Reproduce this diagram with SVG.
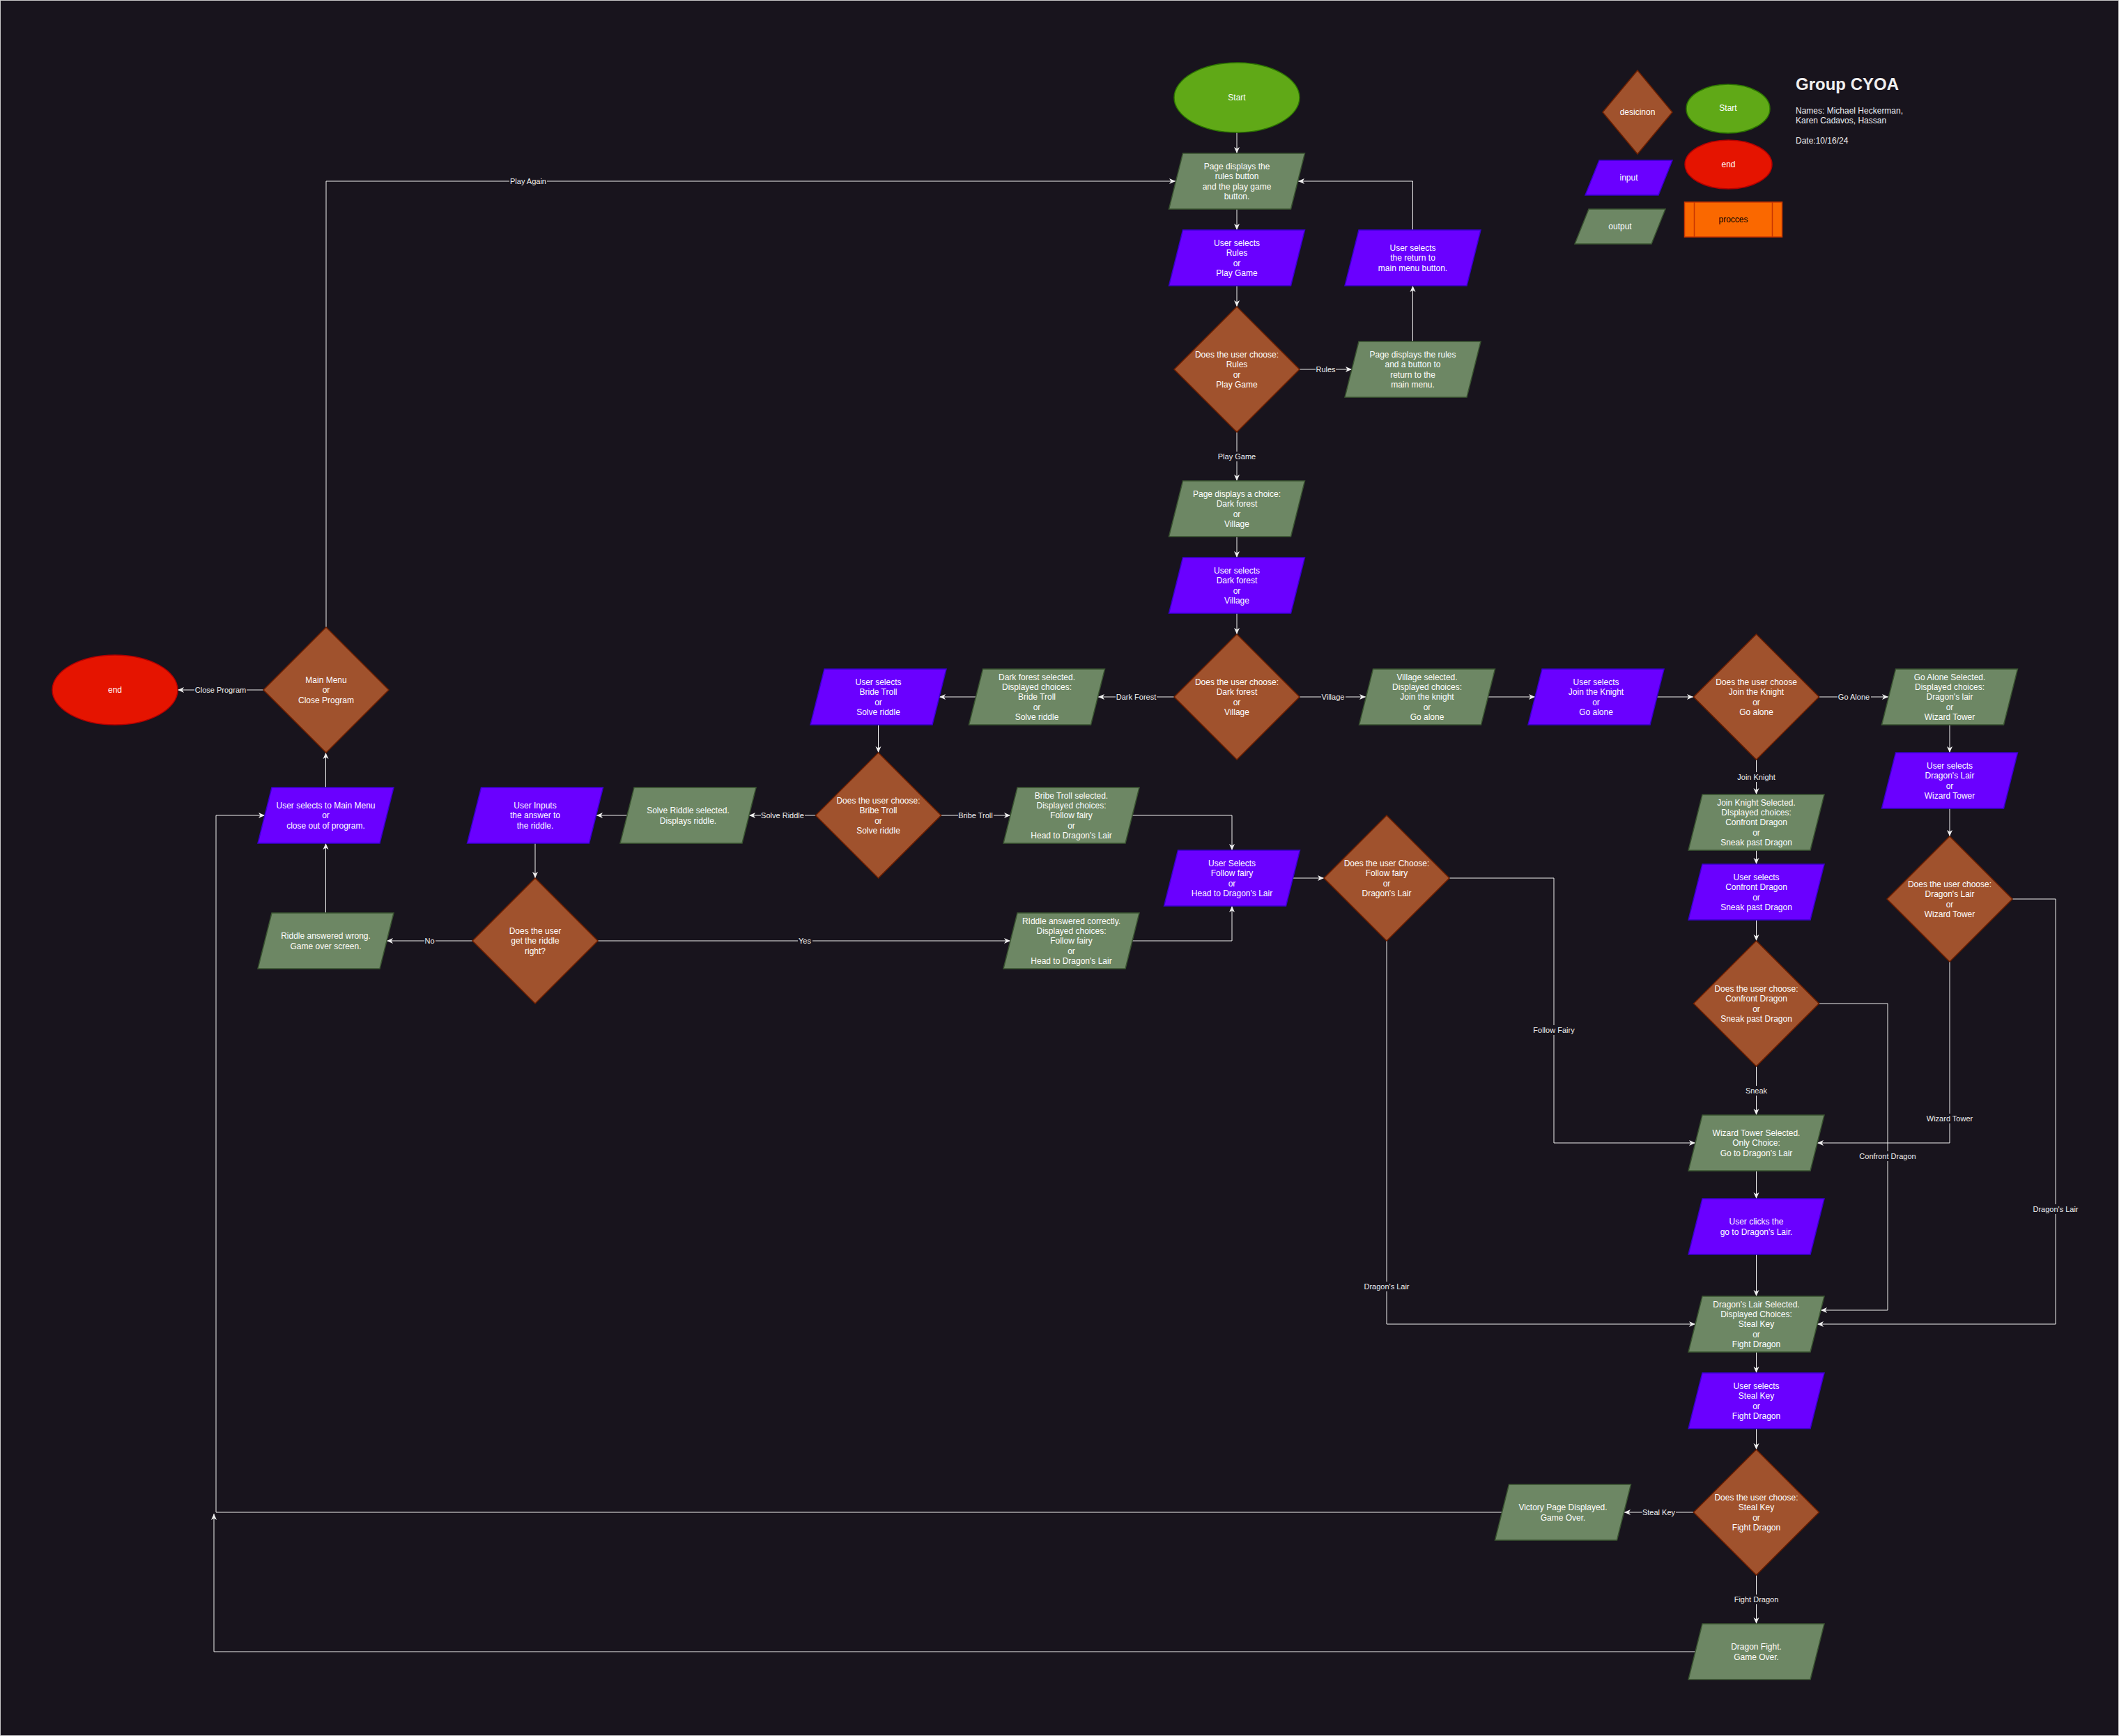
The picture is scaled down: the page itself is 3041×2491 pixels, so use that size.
<svg xmlns="http://www.w3.org/2000/svg" width="3041" height="2491" viewBox="0 0 3041 2491">
<style>
.out{fill:#6d8764;stroke:#3a5431;stroke-width:1.5}
.inp{fill:#6a00ff;stroke:#3700cc;stroke-width:1.5}
.dec{fill:#a0522d;stroke:#6d1f00;stroke-width:1.5}
.st{fill:#60a917;stroke:#2d7600;stroke-width:1.5}
.en{fill:#e51400;stroke:#b20000;stroke-width:1.5}
.pr{fill:#fa6800;stroke:#c73500;stroke-width:1.5}
.t{font-family:"Liberation Sans",Arial,Helvetica,sans-serif;font-size:12px;fill:#ffffff;text-anchor:middle}
.l{font-family:"Liberation Sans",Arial,Helvetica,sans-serif;font-size:11px;fill:#f0f0f0;text-anchor:middle}
.lb{fill:#18141d}
.e{fill:none;stroke:#f0f0f0;stroke-width:1;marker-end:url(#a)}
.h{font-family:"Liberation Sans",Arial,Helvetica,sans-serif;fill:#f0f0f0}
</style>
<defs>
<marker id="a" viewBox="-10 -5 11 10" refX="0" refY="0" markerWidth="11" markerHeight="10" markerUnits="userSpaceOnUse" orient="auto">
<path d="M0,0 L-9,-4 L-6.5,0 L-9,4 Z" fill="#f0f0f0"/>
</marker>
<polygon id="pg" points="-77.5,-40 97.5,-40 77.5,40 -97.5,40"/>
<polygon id="dm" points="0,-90 90,0 0,90 -90,0"/>
</defs>
<rect x="0.5" y="0.5" width="3040" height="2490" fill="#18141d" stroke="#c8c8c8" stroke-width="1"/>

<g id="connectors">
<path class="e" d="M1775,190 V220"/>
<path class="e" d="M1775,300 V330"/>
<path class="e" d="M1775,410 V440"/>
<path class="e" d="M1865,530 H1940"/>
<path class="e" d="M2027.5,490 V410"/>
<path class="e" d="M2027.5,330 V260 H1863"/>
<path class="e" d="M1775,620 V690"/>
<path class="e" d="M1775,770 V800"/>
<path class="e" d="M1775,880 V910"/>
<path class="e" d="M1865,1000 H1960"/>
<path class="e" d="M2135.5,1000 H2203"/>
<path class="e" d="M2378,1000 H2430"/>
<path class="e" d="M2610.5,1000 H2710"/>
<path class="e" d="M2520.5,1090 V1140"/>
<path class="e" d="M2798,1040 V1080"/>
<path class="e" d="M2798,1160 V1200"/>
<path class="e" d="M2798,1380 V1640 H2608"/>
<path class="e" d="M2888,1290 H2950 V1900 H2608"/>
<path class="e" d="M2520.5,1220 V1240"/>
<path class="e" d="M2520.5,1320 V1350"/>
<path class="e" d="M2610.5,1440 H2709 V1880 H2613"/>
<path class="e" d="M2520.5,1530 V1600"/>
<path class="e" d="M2520.5,1680 V1720"/>
<path class="e" d="M2520.5,1800 V1860"/>
<path class="e" d="M2520.5,1940 V1970"/>
<path class="e" d="M2520.5,2050 V2080"/>
<path class="e" d="M2430.5,2170 H2331"/>
<path class="e" d="M2520.5,2260 V2330"/>
<path class="e" d="M2155.5,2170 H310 V1170 H380"/>
<path class="e" d="M2433,2370 H307 V2172"/>
<path class="e" d="M1685,1000 H1576"/>
<path class="e" d="M1400.5,1000 H1348"/>
<path class="e" d="M1260.5,1040 V1080"/>
<path class="e" d="M1350.5,1170 H1450"/>
<path class="e" d="M1170.5,1170 H1075"/>
<path class="e" d="M900,1170 H856"/>
<path class="e" d="M768,1210 V1260"/>
<path class="e" d="M678,1350 H555"/>
<path class="e" d="M858,1350 H1450"/>
<path class="e" d="M1625,1170 H1768 V1220"/>
<path class="e" d="M1625,1350 H1768 V1300"/>
<path class="e" d="M1855.5,1260 H1900"/>
<path class="e" d="M2080,1260 H2230 V1640 H2433"/>
<path class="e" d="M1990,1350 V1900 H2433"/>
<path class="e" d="M467.5,1310 V1210"/>
<path class="e" d="M467.5,1130 V1080"/>
<path class="e" d="M378,990 H255"/>
<path class="e" d="M468,900 V260 H1687"/>

<rect class="lb" x="1888" y="523" width="29" height="14"/><text class="l" x="1902.5" y="534">Rules</text>
<rect class="lb" x="1747" y="648" width="56" height="14"/><text class="l" x="1775" y="659">Play Game</text>
<rect class="lb" x="1896" y="993" width="35" height="14"/><text class="l" x="1913" y="1004">Village</text>
<rect class="lb" x="2637" y="993" width="48" height="14"/><text class="l" x="2660.5" y="1004">Go Alone</text>
<rect class="lb" x="2493" y="1108" width="56" height="14"/><text class="l" x="2520.5" y="1119">Join Knight</text>
<rect class="lb" x="2764" y="1598" width="69" height="14"/><text class="l" x="2798" y="1609">Wizard Tower</text>
<rect class="lb" x="2917" y="1728" width="66" height="14"/><text class="l" x="2950" y="1739">Dragon's Lair</text>
<rect class="lb" x="2668" y="1652" width="83" height="14"/><text class="l" x="2709" y="1663">Confront Dragon</text>
<rect class="lb" x="2504" y="1558" width="33" height="14"/><text class="l" x="2520.5" y="1569">Sneak</text>
<rect class="lb" x="2357" y="2163" width="48" height="14"/><text class="l" x="2380.5" y="2174">Steal Key</text>
<rect class="lb" x="2488" y="2288" width="65" height="14"/><text class="l" x="2520.5" y="2299">Fight Dragon</text>
<rect class="lb" x="1601" y="993" width="59" height="14"/><text class="l" x="1630.5" y="1004">Dark Forest</text>
<rect class="lb" x="1375" y="1163" width="51" height="14"/><text class="l" x="1400" y="1174">Bribe Troll</text>
<rect class="lb" x="1092" y="1163" width="63" height="14"/><text class="l" x="1123" y="1174">Solve Riddle</text>
<rect class="lb" x="609" y="1343" width="16" height="14"/><text class="l" x="616.5" y="1354">No</text>
<rect class="lb" x="1145" y="1343" width="21" height="14"/><text class="l" x="1155" y="1354">Yes</text>
<rect class="lb" x="2200" y="1471" width="61" height="14"/><text class="l" x="2230" y="1482">Follow Fairy</text>
<rect class="lb" x="1957" y="1839" width="66" height="14"/><text class="l" x="1990" y="1850">Dragon's Lair</text>
<rect class="lb" x="279" y="983" width="75" height="14"/><text class="l" x="316.5" y="994">Close Program</text>
<rect class="lb" x="731" y="253" width="54" height="14"/><text class="l" x="758" y="264">Play Again</text>
</g>

<g id="n-start"><ellipse class="st" cx="1775" cy="140" rx="90" ry="50"/><text class="t" x="1775" y="144.3">Start</text></g>
<g id="n-p1"><use href="#pg" class="out" x="1775" y="260"/><text class="t" x="1775" y="242.7"><tspan x="1775">Page displays the</tspan><tspan x="1775" dy="14.4">rules button</tspan><tspan x="1775" dy="14.4">and the play game</tspan><tspan x="1775" dy="14.4">button.</tspan></text></g>
<g id="n-i1"><use href="#pg" class="inp" x="1775" y="370"/><text class="t" x="1775" y="352.7"><tspan x="1775">User selects</tspan><tspan x="1775" dy="14.4">Rules</tspan><tspan x="1775" dy="14.4">or</tspan><tspan x="1775" dy="14.4">Play Game</tspan></text></g>
<g id="n-d1"><use href="#dm" class="dec" x="1775" y="530"/><text class="t" x="1775" y="512.7"><tspan x="1775">Does the user choose:</tspan><tspan x="1775" dy="14.4">Rules</tspan><tspan x="1775" dy="14.4">or</tspan><tspan x="1775" dy="14.4">Play Game</tspan></text></g>
<g id="n-p3"><use href="#pg" class="out" x="2027.5" y="530"/><text class="t" x="2027.5" y="512.7"><tspan x="2027.5">Page displays the rules</tspan><tspan x="2027.5" dy="14.4">and a button to</tspan><tspan x="2027.5" dy="14.4">return to the</tspan><tspan x="2027.5" dy="14.4">main menu.</tspan></text></g>
<g id="n-i3"><use href="#pg" class="inp" x="2027.5" y="370"/><text class="t" x="2027.5" y="359.9"><tspan x="2027.5">User selects</tspan><tspan x="2027.5" dy="14.4">the return to</tspan><tspan x="2027.5" dy="14.4">main menu button.</tspan></text></g>
<g id="n-p2"><use href="#pg" class="out" x="1775" y="730"/><text class="t" x="1775" y="712.7"><tspan x="1775">Page displays a choice:</tspan><tspan x="1775" dy="14.4">Dark forest</tspan><tspan x="1775" dy="14.4">or</tspan><tspan x="1775" dy="14.4">Village</tspan></text></g>
<g id="n-i2"><use href="#pg" class="inp" x="1775" y="840"/><text class="t" x="1775" y="822.7"><tspan x="1775">User selects</tspan><tspan x="1775" dy="14.4">Dark forest</tspan><tspan x="1775" dy="14.4">or</tspan><tspan x="1775" dy="14.4">Village</tspan></text></g>
<g id="n-d2"><use href="#dm" class="dec" x="1775" y="1000"/><text class="t" x="1775" y="982.7"><tspan x="1775">Does the user choose:</tspan><tspan x="1775" dy="14.4">Dark forest</tspan><tspan x="1775" dy="14.4">or</tspan><tspan x="1775" dy="14.4">Village</tspan></text></g>
<g id="n-p4"><use href="#pg" class="out" x="2048" y="1000"/><text class="t" x="2048" y="975.5"><tspan x="2048">Village selected.</tspan><tspan x="2048" dy="14.4">Displayed choices:</tspan><tspan x="2048" dy="14.4">Join the knight</tspan><tspan x="2048" dy="14.4">or</tspan><tspan x="2048" dy="14.4">Go alone</tspan></text></g>
<g id="n-i4"><use href="#pg" class="inp" x="2290.5" y="1000"/><text class="t" x="2290.5" y="982.7"><tspan x="2290.5">User selects</tspan><tspan x="2290.5" dy="14.4">Join the Knight</tspan><tspan x="2290.5" dy="14.4">or</tspan><tspan x="2290.5" dy="14.4">Go alone</tspan></text></g>
<g id="n-d3"><use href="#dm" class="dec" x="2520.5" y="1000"/><text class="t" x="2520.5" y="982.7"><tspan x="2520.5">Does the user choose</tspan><tspan x="2520.5" dy="14.4">Join the Knight</tspan><tspan x="2520.5" dy="14.4">or</tspan><tspan x="2520.5" dy="14.4">Go alone</tspan></text></g>
<g id="n-p5"><use href="#pg" class="out" x="2798" y="1000"/><text class="t" x="2798" y="975.5"><tspan x="2798">Go Alone Selected.</tspan><tspan x="2798" dy="14.4">Displayed choices:</tspan><tspan x="2798" dy="14.4">Dragon's lair</tspan><tspan x="2798" dy="14.4">or</tspan><tspan x="2798" dy="14.4">Wizard Tower</tspan></text></g>
<g id="n-i6"><use href="#pg" class="inp" x="2798" y="1120"/><text class="t" x="2798" y="1102.7"><tspan x="2798">User selects</tspan><tspan x="2798" dy="14.4">Dragon's Lair</tspan><tspan x="2798" dy="14.4">or</tspan><tspan x="2798" dy="14.4">Wizard Tower</tspan></text></g>
<g id="n-d4"><use href="#dm" class="dec" x="2798" y="1290"/><text class="t" x="2798" y="1272.7"><tspan x="2798">Does the user choose:</tspan><tspan x="2798" dy="14.4">Dragon's Lair</tspan><tspan x="2798" dy="14.4">or</tspan><tspan x="2798" dy="14.4">Wizard Tower</tspan></text></g>
<g id="n-p7"><use href="#pg" class="out" x="2520.5" y="1180"/><text class="t" x="2520.5" y="1155.5"><tspan x="2520.5">Join Knight Selected.</tspan><tspan x="2520.5" dy="14.4">DIsplayed choices:</tspan><tspan x="2520.5" dy="14.4">Confront Dragon</tspan><tspan x="2520.5" dy="14.4">or</tspan><tspan x="2520.5" dy="14.4">Sneak past Dragon</tspan></text></g>
<g id="n-i7"><use href="#pg" class="inp" x="2520.5" y="1280"/><text class="t" x="2520.5" y="1262.7"><tspan x="2520.5">User selects</tspan><tspan x="2520.5" dy="14.4">Confront Dragon</tspan><tspan x="2520.5" dy="14.4">or</tspan><tspan x="2520.5" dy="14.4">Sneak past Dragon</tspan></text></g>
<g id="n-d5"><use href="#dm" class="dec" x="2520.5" y="1440"/><text class="t" x="2520.5" y="1422.7"><tspan x="2520.5">Does the user choose:</tspan><tspan x="2520.5" dy="14.4">Confront Dragon</tspan><tspan x="2520.5" dy="14.4">or</tspan><tspan x="2520.5" dy="14.4">Sneak past Dragon</tspan></text></g>
<g id="n-p8"><use href="#pg" class="out" x="2520.5" y="1640"/><text class="t" x="2520.5" y="1629.9"><tspan x="2520.5">Wizard Tower Selected.</tspan><tspan x="2520.5" dy="14.4">Only Choice:</tspan><tspan x="2520.5" dy="14.4">Go to Dragon's Lair</tspan></text></g>
<g id="n-i8"><use href="#pg" class="inp" x="2520.5" y="1760"/><text class="t" x="2520.5" y="1757.1"><tspan x="2520.5">User clicks the</tspan><tspan x="2520.5" dy="14.4">go to Dragon's Lair.</tspan></text></g>
<g id="n-p9"><use href="#pg" class="out" x="2520.5" y="1900"/><text class="t" x="2520.5" y="1875.5"><tspan x="2520.5">Dragon's Lair Selected.</tspan><tspan x="2520.5" dy="14.4">Displayed Choices:</tspan><tspan x="2520.5" dy="14.4">Steal Key</tspan><tspan x="2520.5" dy="14.4">or</tspan><tspan x="2520.5" dy="14.4">Fight Dragon</tspan></text></g>
<g id="n-i9"><use href="#pg" class="inp" x="2520.5" y="2010"/><text class="t" x="2520.5" y="1992.7"><tspan x="2520.5">User selects</tspan><tspan x="2520.5" dy="14.4">Steal Key</tspan><tspan x="2520.5" dy="14.4">or</tspan><tspan x="2520.5" dy="14.4">Fight Dragon</tspan></text></g>
<g id="n-d6"><use href="#dm" class="dec" x="2520.5" y="2170"/><text class="t" x="2520.5" y="2152.7"><tspan x="2520.5">Does the user choose:</tspan><tspan x="2520.5" dy="14.4">Steal Key</tspan><tspan x="2520.5" dy="14.4">or</tspan><tspan x="2520.5" dy="14.4">Fight Dragon</tspan></text></g>
<g id="n-p10"><use href="#pg" class="out" x="2520.5" y="2370"/><text class="t" x="2520.5" y="2367.1"><tspan x="2520.5">Dragon Fight.</tspan><tspan x="2520.5" dy="14.4">Game Over.</tspan></text></g>
<g id="n-p11"><use href="#pg" class="out" x="2243" y="2170"/><text class="t" x="2243" y="2167.1"><tspan x="2243">Victory Page Displayed.</tspan><tspan x="2243" dy="14.4">Game Over.</tspan></text></g>
<g id="n-p6"><use href="#pg" class="out" x="1488" y="1000"/><text class="t" x="1488" y="975.5"><tspan x="1488">Dark forest selected.</tspan><tspan x="1488" dy="14.4">Displayed choices:</tspan><tspan x="1488" dy="14.4">Bride Troll</tspan><tspan x="1488" dy="14.4">or</tspan><tspan x="1488" dy="14.4">Solve riddle</tspan></text></g>
<g id="n-i5"><use href="#pg" class="inp" x="1260.5" y="1000"/><text class="t" x="1260.5" y="982.7"><tspan x="1260.5">User selects</tspan><tspan x="1260.5" dy="14.4">Bride Troll</tspan><tspan x="1260.5" dy="14.4">or</tspan><tspan x="1260.5" dy="14.4">Solve riddle</tspan></text></g>
<g id="n-d7"><use href="#dm" class="dec" x="1260.5" y="1170"/><text class="t" x="1260.5" y="1152.7"><tspan x="1260.5">Does the user choose:</tspan><tspan x="1260.5" dy="14.4">Bribe Troll</tspan><tspan x="1260.5" dy="14.4">or</tspan><tspan x="1260.5" dy="14.4">Solve riddle</tspan></text></g>
<g id="n-p12"><use href="#pg" class="out" x="1537.5" y="1170"/><text class="t" x="1537.5" y="1145.5"><tspan x="1537.5">Bribe Troll selected.</tspan><tspan x="1537.5" dy="14.4">Displayed choices:</tspan><tspan x="1537.5" dy="14.4">Follow fairy</tspan><tspan x="1537.5" dy="14.4">or</tspan><tspan x="1537.5" dy="14.4">Head to Dragon's Lair</tspan></text></g>
<g id="n-p13"><use href="#pg" class="out" x="1537.5" y="1350"/><text class="t" x="1537.5" y="1325.5"><tspan x="1537.5">RIddle answered correctly.</tspan><tspan x="1537.5" dy="14.4">Displayed choices:</tspan><tspan x="1537.5" dy="14.4">Follow fairy</tspan><tspan x="1537.5" dy="14.4">or</tspan><tspan x="1537.5" dy="14.4">Head to Dragon's Lair</tspan></text></g>
<g id="n-i10"><use href="#pg" class="inp" x="1768" y="1260"/><text class="t" x="1768" y="1242.7"><tspan x="1768">User Selects</tspan><tspan x="1768" dy="14.4">Follow fairy</tspan><tspan x="1768" dy="14.4">or</tspan><tspan x="1768" dy="14.4">Head to Dragon's Lair</tspan></text></g>
<g id="n-d8"><use href="#dm" class="dec" x="1990" y="1260"/><text class="t" x="1990" y="1242.7"><tspan x="1990">Does the user Choose:</tspan><tspan x="1990" dy="14.4">Follow fairy</tspan><tspan x="1990" dy="14.4">or</tspan><tspan x="1990" dy="14.4">Dragon's Lair</tspan></text></g>
<g id="n-p14"><use href="#pg" class="out" x="987.5" y="1170"/><text class="t" x="987.5" y="1167.1"><tspan x="987.5">Solve Riddle selected.</tspan><tspan x="987.5" dy="14.4">Displays riddle.</tspan></text></g>
<g id="n-i11"><use href="#pg" class="inp" x="768" y="1170"/><text class="t" x="768" y="1159.9"><tspan x="768">User Inputs</tspan><tspan x="768" dy="14.4">the answer to</tspan><tspan x="768" dy="14.4">the riddle.</tspan></text></g>
<g id="n-d9"><use href="#dm" class="dec" x="768" y="1350"/><text class="t" x="768" y="1339.9"><tspan x="768">Does the user</tspan><tspan x="768" dy="14.4">get the riddle</tspan><tspan x="768" dy="14.4">right?</tspan></text></g>
<g id="n-p15"><use href="#pg" class="out" x="467.5" y="1350"/><text class="t" x="467.5" y="1347.1"><tspan x="467.5">Riddle answered wrong.</tspan><tspan x="467.5" dy="14.4">Game over screen.</tspan></text></g>
<g id="n-i12"><use href="#pg" class="inp" x="467.5" y="1170"/><text class="t" x="467.5" y="1159.9"><tspan x="467.5">User selects to Main Menu</tspan><tspan x="467.5" dy="14.4">or</tspan><tspan x="467.5" dy="14.4">close out of program.</tspan></text></g>
<g id="n-d10"><use href="#dm" class="dec" x="468" y="990"/><text class="t" x="468" y="979.9"><tspan x="468">Main Menu</tspan><tspan x="468" dy="14.4">or</tspan><tspan x="468" dy="14.4">Close Program</tspan></text></g>
<g id="n-end"><ellipse class="en" cx="165" cy="990" rx="90" ry="50"/><text class="t" x="165" y="994.3">end</text></g>

<g id="legend">
<g id="lg-decision"><polygon class="dec" points="2350,101 2400,161 2350,221 2300,161"/><text class="t" x="2350" y="165">desicinon</text></g>
<g id="lg-start"><ellipse class="st" cx="2480" cy="156" rx="60" ry="35"/><text class="t" x="2480" y="159">Start</text></g>
<g id="lg-end"><ellipse class="en" cx="2480.5" cy="236" rx="62.5" ry="35"/><text class="t" x="2480.5" y="240">end</text></g>
<g id="lg-input"><polygon class="inp" points="2295,230 2400,230 2380,280 2275,280"/><text class="t" x="2337.5" y="259">input</text></g>
<g id="lg-output"><polygon class="out" points="2280,300 2390,300 2370,350 2260,350"/><text class="t" x="2325" y="329">output</text></g>
<g id="lg-process"><rect class="pr" x="2417.5" y="290" width="140" height="50"/><line x1="2431.5" y1="290" x2="2431.5" y2="340" stroke="#c73500" stroke-width="1.5"/><line x1="2543.5" y1="290" x2="2543.5" y2="340" stroke="#c73500" stroke-width="1.5"/><text class="t" x="2487.5" y="319" style="fill:#000000">procces</text></g>
</g>

<g id="title">
<text class="h" x="2577" y="129" font-size="24" font-weight="bold">Group CYOA</text>
<text class="h" x="2577" y="162.5" font-size="12">Names: Michael Heckerman,</text>
<text class="h" x="2577" y="177" font-size="12">Karen Cadavos, Hassan</text>
<text class="h" x="2577" y="206" font-size="12">Date:10/16/24</text>
</g>
</svg>
